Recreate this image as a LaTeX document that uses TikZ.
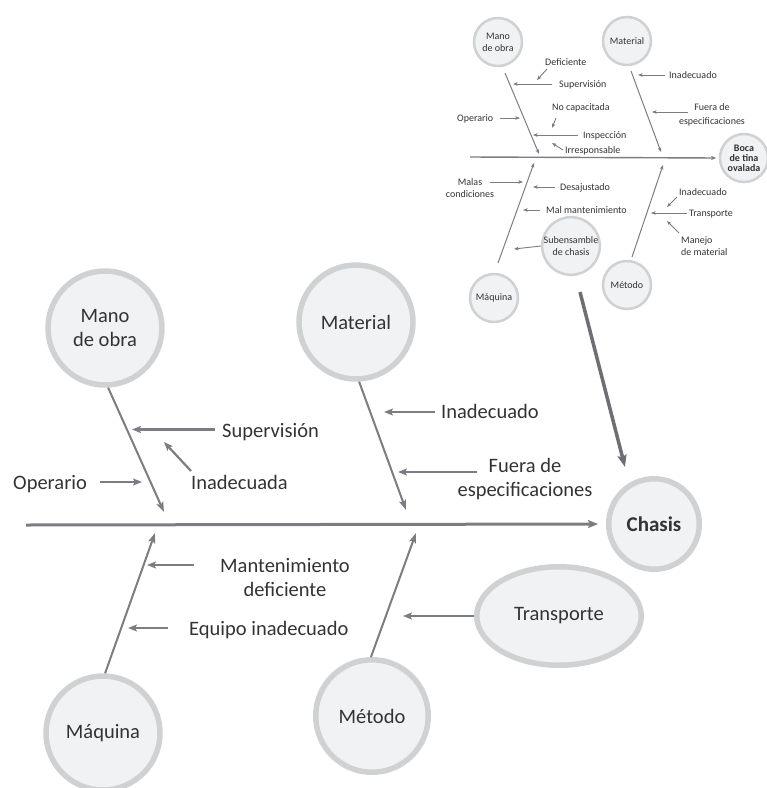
\documentclass[tikz,border=0pt]{standalone}
\usepackage{fontspec}
\setmainfont{Carlito}
\usetikzlibrary{arrows.meta,shapes.geometric}
\definecolor{ln}{HTML}{7C7D82}
\definecolor{bigln}{HTML}{6E6F73}
\definecolor{ring}{HTML}{D0D1D3}
\definecolor{fil}{HTML}{F1F2F4}
\definecolor{txt}{HTML}{333333}
\begin{document}
\begin{tikzpicture}[x=1pt,y=-1pt,
  bigfont/.style={font=\fontsize{20.5}{24}\selectfont},
  smallfont/.style={font=\fontsize{10}{12}\selectfont},
  bigcirc/.style={circle,draw=ring,fill=fil,line width=5.5pt,minimum size=114pt,inner sep=0pt,align=center,text=txt,bigfont},
  smallcirc/.style={circle,draw=ring,fill=fil,line width=2.5pt,minimum size=48pt,inner sep=0pt,align=center,text=txt,smallfont},
  lbl/.style={inner sep=0pt,text=txt,bigfont},
  slbl/.style={inner sep=0pt,text=txt,smallfont},
  spine/.style={draw=ln,line width=3pt,-{Stealth[length=10pt,width=8pt,inset=2pt]}},
  bone/.style={draw=ln,line width=2pt,-{Stealth[length=10pt,width=7pt,inset=2pt]}},
  rib/.style={draw=ln,line width=2.2pt,-{Stealth[length=9pt,width=7pt,inset=2pt]}},
  sspine/.style={draw=ln,line width=1.4pt,-{Stealth[length=5pt,width=4pt,inset=1pt]}},
  sbone/.style={draw=ln,line width=1pt,-{Stealth[length=4.5pt,width=3.5pt,inset=1pt]}},
  srib/.style={draw=ln,line width=0.9pt,-{Stealth[length=4.5pt,width=3.5pt,inset=1pt]}},
  linkarrow/.style={draw=bigln,line width=3.5pt,-{Stealth[length=12pt,width=9pt,inset=2pt]}}
]
\useasboundingbox (0,0) rectangle (767,788);

% ---------- big diagram ----------
\node[bigcirc] (mo) at (105,328) {Mano\\de obra};
\node[bigcirc] (mat) at (356,322) {Material};
\node[bigcirc,minimum size=90.5pt,font=\fontsize{21}{24}\selectfont\bfseries] (ch) at (654,524) {Chasis};
\node[bigcirc] (maq) at (103,733) {Máquina};
\node[bigcirc,minimum size=112.5pt] (met) at (372,716) {Método};
\node[ellipse,draw=ring,fill=fil,line width=5.5pt,minimum width=164.5pt,minimum height=98.5pt,inner sep=0pt,text=txt,bigfont] (tr) at (559,616) {Transporte};

\coordinate (sp0) at (26,525);
\draw[spine,shorten >=8pt] (sp0) -- (ch.west);

\coordinate (mo-e) at (164,512);
\coordinate (mat-e) at (406,510);
\coordinate (maq-e) at (155,533);
\coordinate (met-e) at (416,533);
\draw[bone] (mo.-87) -- (mo-e);
\draw[bone] (mat.-87) -- (mat-e);
\draw[bone] (maq.88) -- (maq-e);
\draw[bone] (met.91) -- (met-e);

\node[lbl,anchor=base west] (sup) at (222,437) {Supervisión};
\coordinate (sup-s) at (215,429.5); \coordinate (sup-e) at (132,429.5);
\draw[rib] (sup-s) -- (sup-e);

\node[lbl,anchor=base west] (inadA) at (191,489) {Inadecuada};
\coordinate (inadA-s) at (191,471); \coordinate (inadA-e) at (164,442);
\draw[rib] (inadA-s) -- (inadA-e);

\node[lbl,anchor=base west] (op) at (13,489) {Operario};
\coordinate (op-s) at (100,482); \coordinate (op-e) at (142,482);
\draw[rib] (op-s) -- (op-e);

\node[lbl,anchor=base west] (inadB) at (441,418) {Inadecuado};
\coordinate (inadB-s) at (435,412); \coordinate (inadB-e) at (384,412);
\draw[rib] (inadB-s) -- (inadB-e);

\node[lbl,align=center] (fue) at (525,479) {Fuera de\\especificaciones};
\coordinate (fue-s) at (477,472); \coordinate (fue-e) at (398,472);
\draw[rib] (fue-s) -- (fue-e);

\node[lbl,align=center] (mant) at (285,578) {Mantenimiento\\deficiente};
\coordinate (mant-s) at (194,565); \coordinate (mant-e) at (147,565);
\draw[rib] (mant-s) -- (mant-e);

\node[lbl,anchor=base west] (eq) at (189,635) {Equipo inadecuado};
\coordinate (eq-s) at (168,628); \coordinate (eq-e) at (128,628);
\draw[rib] (eq-s) -- (eq-e);

\coordinate (tr-e) at (403,616);
\draw[rib] (tr.west) -- (tr-e);

% ---------- small diagram ----------
\node[smallcirc] (smo) at (498,42) {Mano\\de obra};
\node[smallcirc] (smat) at (627,41) {Material};
\node[smallcirc,font=\fontsize{10}{10}\selectfont\bfseries] (boca) at (744,158) {Boca\\de tina\\ovalada};
\node[smallcirc] (smaq) at (494,298) {Máquina};
\node[smallcirc] (sub) at (571,246) {Subensamble\\de chasis};
\node[smallcirc] (smet) at (627,285) {Método};

\coordinate (ssp0) at (470,157);
\draw[sspine,shorten >=2.5pt] (ssp0) -- (boca.west);

\coordinate (smo-s) at (505,73);  \coordinate (smo-e) at (539,154);
\coordinate (smat-s) at (631,71); \coordinate (smat-e) at (661,152);
\coordinate (smaq-s) at (498,263); \coordinate (smaq-e) at (534,163);
\coordinate (smet-s) at (632,257); \coordinate (smet-e) at (663,165);
\draw[sbone] (smo-s) -- (smo-e);
\draw[sbone] (smat-s) -- (smat-e);
\draw[sbone] (smaq-s) -- (smaq-e);
\draw[sbone] (smet-s) -- (smet-e);

\node[slbl,anchor=base west] (def) at (545,65.5) {Deficiente};
\coordinate (def-s) at (547,69); \coordinate (def-e) at (537,80);
\draw[srib] (def-s) -- (def-e);

\node[slbl,anchor=base west] (ssup) at (559,87.5) {Supervisión};
\coordinate (ssup-s) at (552,84); \coordinate (ssup-e) at (513,84);
\draw[srib] (ssup-s) -- (ssup-e);

\node[slbl,anchor=base west] (nocap) at (552,110.5) {No capacitada};
\coordinate (nocap-s) at (556,118); \coordinate (nocap-e) at (552,128);
\draw[srib] (nocap-s) -- (nocap-e);

\node[slbl,anchor=base west] (sop) at (457,121.5) {Operario};
\coordinate (sop-s) at (500,118); \coordinate (sop-e) at (520,118);
\draw[srib] (sop-s) -- (sop-e);

\node[slbl,anchor=base west] (insp) at (583,138.5) {Inspección};
\coordinate (insp-s) at (578,135); \coordinate (insp-e) at (533,135);
\draw[srib] (insp-s) -- (insp-e);

\node[slbl,anchor=base west] (irr) at (565,153.5) {Irresponsable};
\coordinate (irr-s) at (563,150); \coordinate (irr-e) at (552,143);
\draw[srib] (irr-s) -- (irr-e);

\node[slbl,anchor=base west] (sinA) at (669,78.5) {Inadecuado};
\coordinate (sinA-s) at (665,75); \coordinate (sinA-e) at (638,75);
\draw[srib] (sinA-s) -- (sinA-e);

\node[slbl,align=center,font=\fontsize{10}{14}\selectfont] (sfue) at (712,115) {Fuera de\\especificaciones};
\coordinate (sfue-s) at (688,112); \coordinate (sfue-e) at (652,112);
\draw[srib] (sfue-s) -- (sfue-e);

\node[slbl,align=center] (malas) at (470,188) {Malas\\condiciones};
\coordinate (malas-s) at (490,182); \coordinate (malas-e) at (523,182);
\draw[srib] (malas-s) -- (malas-e);

\node[slbl,anchor=base west] (desaj) at (560,190.5) {Desajustado};
\coordinate (desaj-s) at (555,187); \coordinate (desaj-e) at (533,187);
\draw[srib] (desaj-s) -- (desaj-e);

\node[slbl,anchor=base west] (malm) at (546,213.5) {Mal mantenimiento};
\coordinate (malm-s) at (540,210); \coordinate (malm-e) at (523,210);
\draw[srib] (malm-s) -- (malm-e);

\coordinate (sub-e) at (514,249);
\draw[srib] (sub.west) -- (sub-e);

\node[slbl,anchor=base west] (sinB) at (679,195.5) {Inadecuado};
\coordinate (sinB-s) at (677,197); \coordinate (sinB-e) at (667,207);
\draw[srib] (sinB-s) -- (sinB-e);

\node[slbl,anchor=base west] (stra) at (689,216.5) {Transporte};
\coordinate (stra-s) at (687,213); \coordinate (stra-e) at (651,213);
\draw[srib] (stra-s) -- (stra-e);

\node[slbl,align=left,anchor=west] (manejo) at (681,246) {Manejo\\de material};
\coordinate (manejo-s) at (679,233); \coordinate (manejo-e) at (667,221);
\draw[srib] (manejo-s) -- (manejo-e);

% ---------- link from small diagram to Chasis ----------
\coordinate (link-s) at (580,292);
\coordinate (link-e) at (625,467);
\draw[linkarrow] (link-s) -- (link-e);
\end{tikzpicture}
\end{document}
